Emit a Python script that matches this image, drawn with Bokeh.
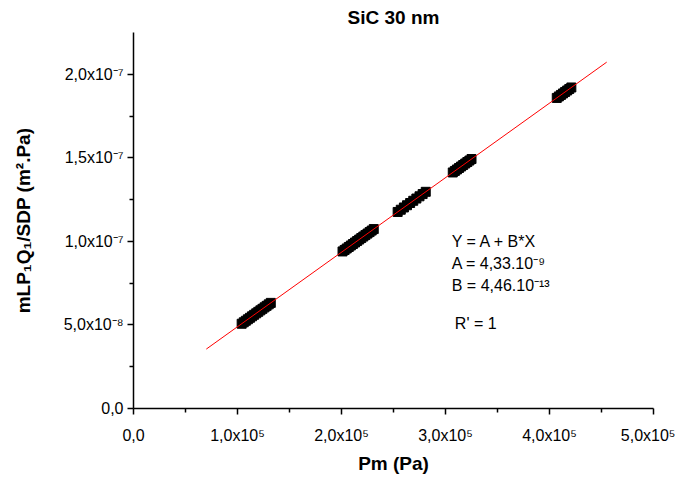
from bokeh.plotting import figure
from bokeh.models import FixedTicker, CustomJSTickFormatter, Range1d, Label, ColumnDataSource
from bokeh.embed import file_html
from bokeh.resources import INLINE

# ---- data ----
pm = [104000, 106000, 108000, 110000, 112000, 114000, 116000, 118000, 120000, 122000,
      124000, 126000, 128000, 130000, 132000,
      201000, 203000, 205000, 207000, 209000, 211000, 213000, 215000, 217000, 219000,
      221000, 223000, 225000, 227000, 229000, 231000,
      254000, 257000, 260000, 263000, 266000, 269000, 272000, 275000, 278000, 281000,
      307000, 309000, 311000, 313000, 315000, 317000, 319000, 321000, 323000, 325000,
      407000, 409000, 411000, 413000, 415000, 417000, 419000, 421000]
perm = [5.071e-8, 5.160e-8, 5.250e-8, 5.339e-8, 5.428e-8, 5.517e-8, 5.607e-8, 5.696e-8,
        5.785e-8, 5.874e-8, 5.964e-8, 6.053e-8, 6.142e-8, 6.231e-8, 6.320e-8,
        9.398e-8, 9.487e-8, 9.576e-8, 9.665e-8, 9.754e-8, 9.844e-8, 9.933e-8, 10.022e-8,
        10.111e-8, 10.201e-8, 10.290e-8, 10.379e-8, 10.468e-8, 10.557e-8, 10.647e-8, 10.736e-8,
        11.761e-8, 11.895e-8, 12.029e-8, 12.163e-8, 12.297e-8, 12.430e-8, 12.564e-8,
        12.698e-8, 12.832e-8, 12.966e-8,
        14.125e-8, 14.214e-8, 14.304e-8, 14.393e-8, 14.482e-8, 14.571e-8, 14.660e-8,
        14.750e-8, 14.839e-8, 14.928e-8,
        18.585e-8, 18.674e-8, 18.764e-8, 18.853e-8, 18.942e-8, 19.031e-8, 19.120e-8, 19.210e-8]

fit_A = 4.33e-9
fit_B = 4.46e-13
fit_x = [70000, 455000]

x_ticks = [0, 100000, 200000, 300000, 400000, 500000]
x_tick_labels = ["0,0", "1,0x10\u2075", "2,0x10\u2075", "3,0x10\u2075", "4,0x10\u2075", "5,0x10\u2075"]
x_minor = [50000, 150000, 250000, 350000, 450000]
y_ticks = [0, 5e-8, 1e-7, 1.5e-7, 2e-7]
y_tick_labels = ["0,0", "5,0x10\u207b\u2078", "1,0x10\u207b\u2077", "1,5x10\u207b\u2077", "2,0x10\u207b\u2077"]
y_minor = [2.5e-8, 7.5e-8, 1.25e-7, 1.75e-7]

title_text = "SiC 30 nm"
x_label = "Pm (Pa)"
y_label = "mLP\u2081Q\u2081/SDP (m\u00b2.Pa)"
fit_lines = ["Y = A + B*X", "A = 4,33.10\u207b\u2079", "B = 4,46.10\u207b\u00b9\u00b3"]
r_text = "R' = 1"

FONT = "Liberation Sans"

p = figure(width=675, height=481, output_backend="svg", toolbar_location=None,
           x_range=Range1d(0, 500000), y_range=Range1d(0, 2.25e-7),
           min_border_left=133, min_border_right=22, min_border_bottom=73, min_border_top=30)

p.title.text = title_text
p.title.align = "center"
p.title.text_font = FONT
p.title.text_font_size = "19px"
p.title.text_font_style = "bold"
p.title.text_color = "black"
p.title.standoff = 9
p.title.offset = 0

p.xgrid.visible = False
p.ygrid.visible = False
p.outline_line_color = None
p.background_fill_color = "white"
p.border_fill_color = "white"

p.xaxis.ticker = FixedTicker(ticks=x_ticks, minor_ticks=x_minor)
p.yaxis.ticker = FixedTicker(ticks=y_ticks, minor_ticks=y_minor)
p.xaxis.formatter = CustomJSTickFormatter(args=dict(t=x_ticks, l=x_tick_labels), code="""
let best=0, d=1e300; for (let i=0;i<t.length;i++){const dd=Math.abs(t[i]-tick); if(dd<d){d=dd;best=i;}} return l[best];""")
p.yaxis.formatter = CustomJSTickFormatter(args=dict(t=y_ticks, l=y_tick_labels), code="""
let best=0, d=1e300; for (let i=0;i<t.length;i++){const dd=Math.abs(t[i]-tick); if(dd<d){d=dd;best=i;}} return l[best];""")

for ax in (p.xaxis[0], p.yaxis[0]):
    ax.axis_line_color = "black"
    ax.axis_line_width = 1.5
    ax.major_tick_line_color = "black"
    ax.major_tick_line_width = 1.5
    ax.minor_tick_line_color = "black"
    ax.minor_tick_line_width = 1.5
    ax.major_tick_in = 0
    ax.major_tick_out = 6
    ax.minor_tick_in = 0
    ax.minor_tick_out = 4
    ax.major_label_text_font = FONT
    ax.major_label_text_font_size = "16px"
    ax.major_label_text_color = "black"
    ax.axis_label_text_font = FONT
    ax.axis_label_text_font_size = "19px"
    ax.axis_label_text_font_style = "bold"
    ax.axis_label_text_color = "black"

p.xaxis.axis_label = x_label
p.yaxis.axis_label = y_label
p.xaxis.major_label_standoff = 12
p.xaxis.axis_label_standoff = 6
p.yaxis.major_label_standoff = 4
p.yaxis.axis_label_standoff = 27

src = ColumnDataSource(dict(x=pm, y=perm))
p.scatter("x", "y", source=src, marker="square", size=9, fill_color="black", line_color="black")

fit_y = [fit_A + fit_B * v for v in fit_x]
p.line(fit_x, fit_y, line_color="red", line_width=1)

ann_y = [1.0e-7, 0.869e-7, 0.738e-7]
for txt, yy in zip(fit_lines, ann_y):
    p.add_layout(Label(x=306000, y=yy, text=txt, text_font=FONT, text_font_size="16px",
                       text_baseline="middle", text_align="left", text_color="black"))
p.add_layout(Label(x=309000, y=0.506e-7, text=r_text, text_font=FONT, text_font_size="16px",
                   text_baseline="middle", text_align="left", text_color="black"))

open("out.html", "w").write(file_html(p, INLINE))
